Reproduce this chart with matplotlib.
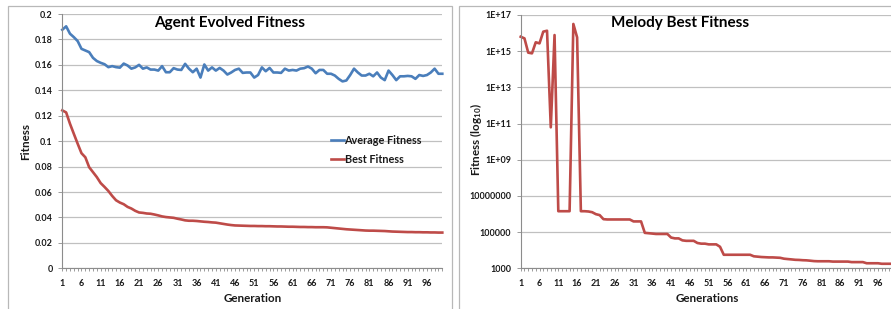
import matplotlib
matplotlib.use("Agg")
import matplotlib.pyplot as plt
from matplotlib.patches import Rectangle
import numpy as np

plt.rcParams['font.family'] = ['Lato', 'DejaVu Sans']
plt.rcParams['font.weight'] = 'bold'
plt.rcParams['mathtext.fontset'] = 'custom'
plt.rcParams['mathtext.rm'] = 'Lato:bold'
plt.rcParams['mathtext.bf'] = 'Lato:bold'
plt.rcParams['mathtext.it'] = 'Lato:bold'

generations = list(range(1, 101))

average_fitness = [
    0.1876, 0.1903, 0.1845, 0.1818, 0.1787, 0.1726, 0.1713, 0.1700, 0.1655, 0.1630,
    0.1616, 0.1605, 0.1582, 0.1590, 0.1582, 0.1578, 0.1610, 0.1595, 0.1570, 0.1580,
    0.1600, 0.1570, 0.1580, 0.1563, 0.1563, 0.1555, 0.1590, 0.1542, 0.1542, 0.1574,
    0.1563, 0.1560, 0.1608, 0.1570, 0.1542, 0.1570, 0.1500, 0.1603, 0.1555, 0.1580,
    0.1555, 0.1576, 0.1555, 0.1524, 0.1540, 0.1560, 0.1570, 0.1537, 0.1540, 0.1540,
    0.1500, 0.1520, 0.1580, 0.1550, 0.1576, 0.1540, 0.1540, 0.1537, 0.1570, 0.1555,
    0.1560, 0.1555, 0.1570, 0.1574, 0.1587, 0.1570, 0.1534, 0.1560, 0.1560, 0.1530,
    0.1530, 0.1516, 0.1490, 0.1470, 0.1477, 0.1520, 0.1570, 0.1540, 0.1516, 0.1516,
    0.1530, 0.1510, 0.1540, 0.1500, 0.1480, 0.1555, 0.1520, 0.1480, 0.1510, 0.1510,
    0.1513, 0.1510, 0.1490, 0.1520, 0.1513, 0.1520, 0.1540, 0.1570, 0.1530, 0.1530,
]

best_fitness = [
    0.1242, 0.1226, 0.1137, 0.1058, 0.0980, 0.0905, 0.0873, 0.0795, 0.0756, 0.0717,
    0.0670, 0.0640, 0.0608, 0.0569, 0.0535, 0.0517, 0.0504, 0.0483, 0.0470, 0.0452,
    0.0439, 0.0436, 0.0431, 0.0429, 0.0423, 0.0416, 0.0408, 0.0403, 0.0400, 0.0397,
    0.0390, 0.0384, 0.0377, 0.0374, 0.0374, 0.0372, 0.0369, 0.0366, 0.0364, 0.0361,
    0.0359, 0.0354, 0.0349, 0.0344, 0.0340, 0.0337, 0.0336, 0.0335, 0.0334, 0.0333,
    0.0333, 0.0332, 0.0332, 0.0331, 0.0331, 0.0330, 0.0329, 0.0329, 0.0328, 0.0327,
    0.0327, 0.0326, 0.0325, 0.0325, 0.0324, 0.0324, 0.0323, 0.0323, 0.0323, 0.0322,
    0.0319, 0.0316, 0.0313, 0.0310, 0.0307, 0.0305, 0.0303, 0.0301, 0.0299, 0.0297,
    0.0296, 0.0296, 0.0295, 0.0294, 0.0293, 0.0291, 0.0289, 0.0288, 0.0287, 0.0286,
    0.0285, 0.0285, 0.0284, 0.0284, 0.0283, 0.0283, 0.0282, 0.0282, 0.0281, 0.0281,
]

melody_best = [
    6.3e15, 5.1e15, 8.3e14, 7.6e14, 3.1e15, 2.7e15, 1.2e16, 1.35e16, 6.2e10, 7.8e15,
    1.43e6, 1.43e6, 1.43e6, 1.43e6, 3.2e16, 5.8e15, 1.43e6, 1.43e6, 1.38e6, 1.26e6,
    9.8e5, 8.7e5, 5.2e5, 5.0e5, 5.0e5, 5.0e5, 5.0e5, 5.0e5, 5.0e5, 5.0e5,
    3.9e5, 3.9e5, 3.9e5, 9.1e4, 8.7e4, 8.3e4, 7.9e4, 7.9e4, 7.9e4, 7.9e4,
    5.0e4, 4.5e4, 4.5e4, 3.5e4, 3.3e4, 3.3e4, 3.3e4, 2.5e4, 2.3e4, 2.3e4,
    2.1e4, 2.1e4, 2.1e4, 1.55e4, 5.6e3, 5.6e3, 5.6e3, 5.6e3, 5.6e3, 5.6e3,
    5.6e3, 5.6e3, 4.6e3, 4.4e3, 4.2e3, 4.1e3, 4.0e3, 4.0e3, 3.9e3, 3.8e3,
    3.4e3, 3.24e3, 3.1e3, 2.95e3, 2.9e3, 2.8e3, 2.75e3, 2.63e3, 2.5e3, 2.45e3,
    2.45e3, 2.45e3, 2.45e3, 2.35e3, 2.35e3, 2.35e3, 2.35e3, 2.35e3, 2.2e3, 2.2e3,
    2.2e3, 2.2e3, 1.9e3, 1.9e3, 1.9e3, 1.9e3, 1.78e3, 1.78e3, 1.78e3, 1.78e3,
]

x_tick_labels = [str(g) for g in range(1, 100, 5)]
left_y_ticks = [0, 0.02, 0.04, 0.06, 0.08, 0.1, 0.12, 0.14, 0.16, 0.18, 0.2]
left_y_labels = ["0", "0.02", "0.04", "0.06", "0.08", "0.1", "0.12", "0.14", "0.16", "0.18", "0.2"]
right_y_ticks = [1e3, 1e5, 1e7, 1e9, 1e11, 1e13, 1e15, 1e17]
right_y_labels = ["1000", "100000", "10000000", "1E+09", "1E+11", "1E+13", "1E+15", "1E+17"]

BLUE = "#4A7EBB"
RED = "#BE4B48"
GRID = "#C0C0C0"
AXC = "#8C8C8C"
TXT = "#1a1a1a"

W, H = 891, 309
fig = plt.figure(figsize=(W / 100, H / 100), dpi=100)

def fx(px):
    return px / W

def fy(py):
    return 1 - py / H

# chart area borders
fig.add_artist(Rectangle((fx(8), fy(330)), fx(451.7 - 8), (330 - 5.5) / H,
                         transform=fig.transFigure, fill=False, ec="#B8B8B8", lw=0.9))
fig.add_artist(Rectangle((fx(459.3), fy(330)), fx(950 - 459.3), (330 - 5.5) / H,
                         transform=fig.transFigure, fill=False, ec="#B8B8B8", lw=0.9))

def style_axes(ax):
    for s in ("top", "right"):
        ax.spines[s].set_visible(False)
    for s in ("left", "bottom"):
        ax.spines[s].set_color(AXC)
        ax.spines[s].set_linewidth(0.8)
    ax.set_xlim(1, 100)
    ax.set_xticks(list(range(1, 100, 5)))
    ax.set_xticklabels(x_tick_labels)
    ax.set_xticks(generations, minor=True)
    ax.tick_params(axis="x", which="both", length=2.5, width=0.6, color=AXC,
                   labelsize=6.5, labelcolor=TXT, pad=5)
    ax.tick_params(axis="y", which="major", length=3, width=0.6, color=AXC,
                   labelsize=6.5, labelcolor=TXT, pad=4)
    ax.tick_params(axis="y", which="minor", length=0)
    ax.grid(axis="y", which="major", color=GRID, lw=0.9)
    ax.set_axisbelow(True)
    for lab in ax.get_xticklabels() + ax.get_yticklabels():
        lab.set_fontweight("bold")

# left chart
ax1_left, ax1_right, ax1_top, ax1_bot = 62.3, 442.3, 14, 268.3
ax1 = fig.add_axes([fx(ax1_left), fy(ax1_bot), fx(ax1_right - ax1_left), (ax1_bot - ax1_top) / H])
ax1.plot(generations, average_fitness, color=BLUE, lw=1.9, label="Average Fitness",
         solid_joinstyle="round", clip_on=False)
ax1.plot(generations, best_fitness, color=RED, lw=1.9, label="Best Fitness",
         solid_joinstyle="round", clip_on=False)
ax1.set_ylim(0, 0.2)
ax1.set_yticks(left_y_ticks)
ax1.set_yticklabels(left_y_labels)
style_axes(ax1)
ax1.set_xlabel("Generation", fontsize=8.4, fontweight="bold", color=TXT, labelpad=4)
ax1.set_ylabel("Fitness", fontsize=8.4, fontweight="bold", color=TXT)
ax1.yaxis.set_label_coords((31 - ax1_left) / (ax1_right - ax1_left), 0.5)
leg = ax1.legend(loc="upper left", bbox_to_anchor=(fx(331), fy(135)),
                 bbox_transform=fig.transFigure, frameon=False, fontsize=7.8,
                 handlelength=1.2, handletextpad=0.05, labelspacing=0.72,
                 borderpad=0, borderaxespad=0)
for t in leg.get_texts():
    t.set_fontweight("bold")
    t.set_color(TXT)
fig.text(fx(229.5), fy(23), "Agent Evolved Fitness", fontsize=11, fontweight="bold",
         color="#000000", ha="center", va="center")

# right chart
ax2_left, ax2_right, ax2_top, ax2_bot = 520.7, 893, 15, 268.3
ax2 = fig.add_axes([fx(ax2_left), fy(ax2_bot), fx(ax2_right - ax2_left), (ax2_bot - ax2_top) / H])
ax2.plot(generations, melody_best, color=RED, lw=1.9, solid_joinstyle="round", clip_on=False)
ax2.set_yscale("log")
ax2.set_ylim(1e3, 1e17)
ax2.set_yticks(right_y_ticks)
ax2.set_yticklabels(right_y_labels)
ax2.yaxis.set_minor_locator(matplotlib.ticker.NullLocator())
style_axes(ax2)
ax2.set_xlabel("Generations", fontsize=8.4, fontweight="bold", color=TXT, labelpad=4)
ax2.set_ylabel(r"Fitness (log$_{\mathbf{10}}$)", fontsize=8.4, fontweight="bold", color=TXT)
ax2.yaxis.set_label_coords((484 - ax2_left) / (ax2_right - ax2_left), (ax2_bot - 139) / (ax2_bot - ax2_top))
fig.text(fx(680), fy(23), "Melody Best Fitness", fontsize=11, fontweight="bold",
         color="#000000", ha="center", va="center")

fig.savefig("out.png", dpi=100)
